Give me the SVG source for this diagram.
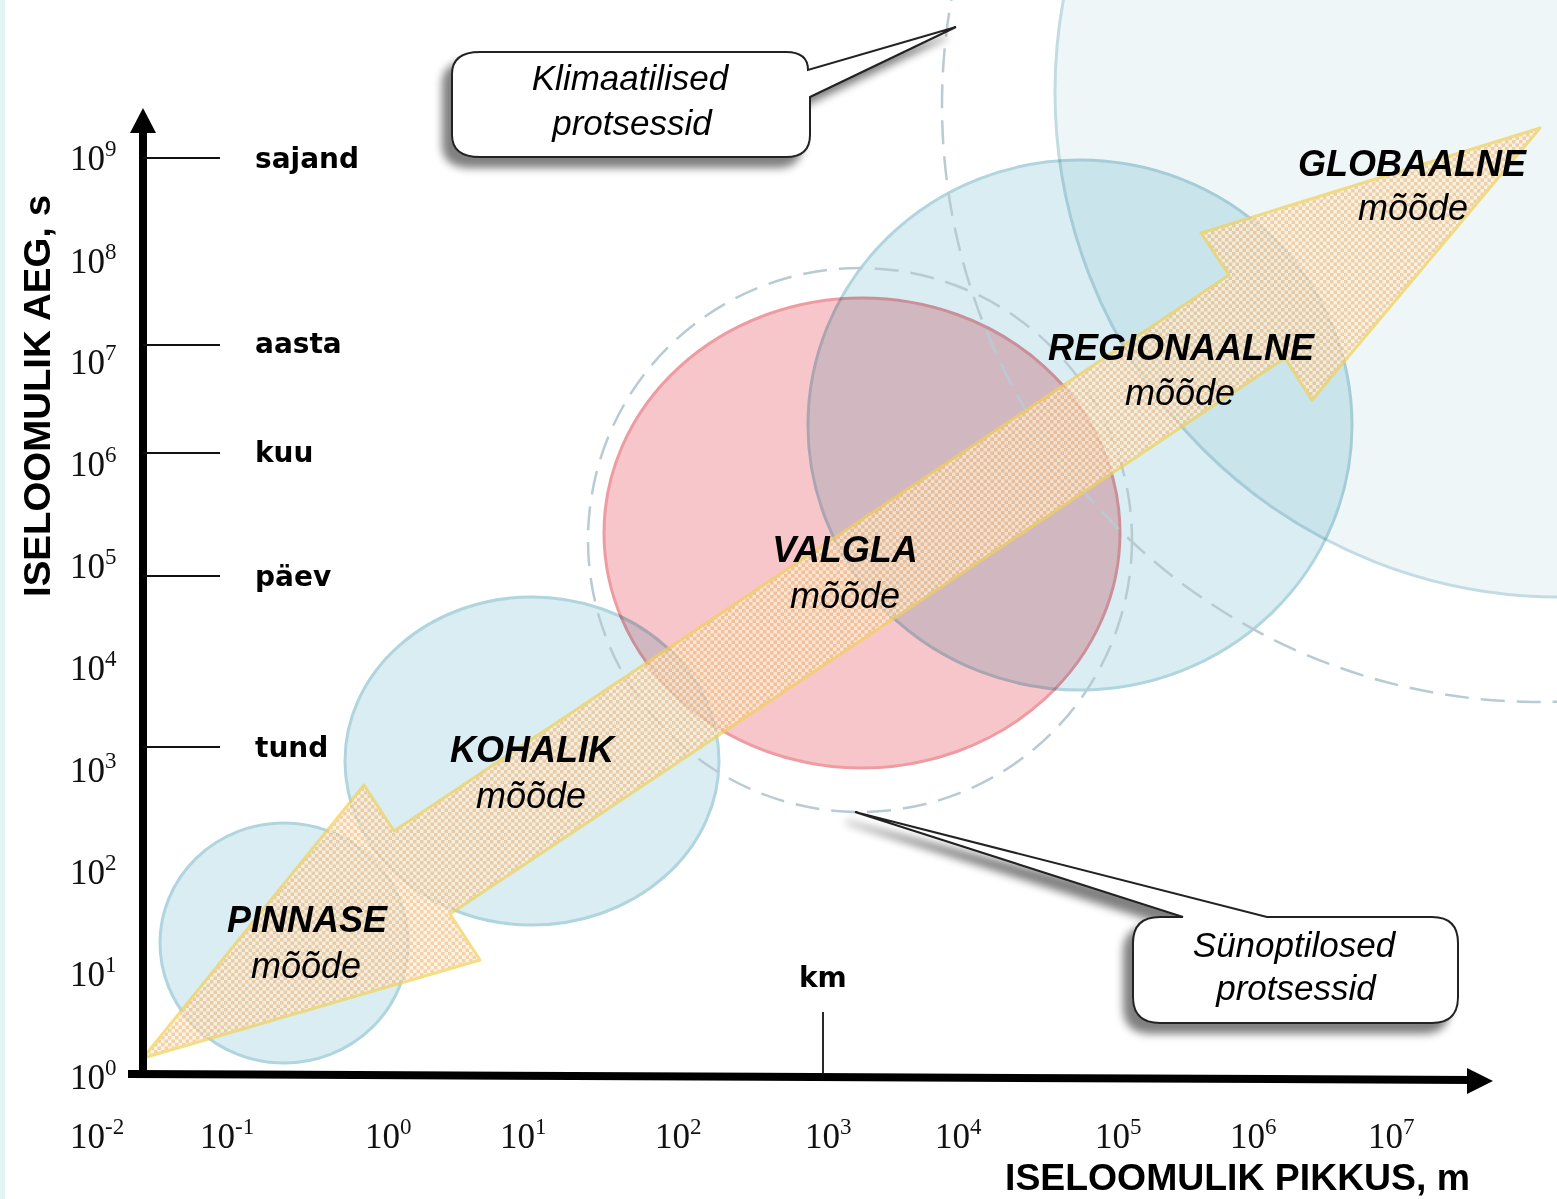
<svg xmlns="http://www.w3.org/2000/svg" width="1557" height="1199" viewBox="0 0 1557 1199">
<style>
.blue{fill:#d9edf3;stroke:#b0d5de;stroke-width:3;mix-blend-mode:multiply}
.red{fill:#f6c6ca;stroke:#ee9ba1;stroke-width:3;mix-blend-mode:multiply}
.dash{fill:none;stroke:#b9cbd2;stroke-width:2.5;stroke-dasharray:24 12}
.big{font-family:"Liberation Sans",Arial,sans-serif;font-weight:bold;font-style:italic;font-size:36px;fill:#000;text-anchor:middle}
.sub{font-family:"Liberation Sans",Arial,sans-serif;font-style:italic;font-size:36px;fill:#000;text-anchor:middle}
.num{font-family:"Liberation Serif","Times New Roman",serif;font-size:35px;fill:#111}
.tl{font-family:"DejaVu Sans",Verdana,sans-serif;font-weight:bold;font-size:28px;fill:#000}
.title{font-family:"Liberation Sans",Arial,sans-serif;font-weight:bold;font-size:36px;fill:#000}
.call{font-family:"Liberation Sans",Arial,sans-serif;font-style:italic;font-size:35px;fill:#000;text-anchor:middle}
.box{fill:#fff;stroke:#222;stroke-width:2}
.tick{stroke:#111;stroke-width:1.8}
</style>
<defs>
<pattern id="chk" patternUnits="userSpaceOnUse" width="7" height="7">
<rect width="7" height="7" fill="#fdf1da"/>
<rect width="3.5" height="3.5" fill="#f2bf88"/>
<rect x="3.5" y="3.5" width="3.5" height="3.5" fill="#f2bf88"/>
</pattern>
<filter id="sh" x="-20%" y="-20%" width="140%" height="160%">
<feGaussianBlur in="SourceAlpha" stdDeviation="4"/>
<feOffset dx="-9" dy="10" result="b"/>
<feComponentTransfer><feFuncA type="linear" slope="0.5"/></feComponentTransfer>
<feMerge><feMergeNode/><feMergeNode in="SourceGraphic"/></feMerge>
</filter>
</defs>
<rect width="1557" height="1199" fill="#fff"/>
<rect width="5" height="1199" fill="#e2f4f4"/>

<g id="node-globaalne-area">
<circle cx="1560" cy="92" r="505" fill="#eef6f8" stroke="#c3dce3" stroke-width="3"/>
</g>
<g id="node-regionaalne-circle">
<ellipse class="blue" cx="1080" cy="425" rx="272" ry="265"/>
</g>
<g id="node-valgla-circle">
<ellipse class="red" cx="862" cy="533" rx="258" ry="235"/>
</g>
<g id="node-kohalik-circle">
<ellipse class="blue" cx="532" cy="761" rx="187" ry="164"/>
</g>
<g id="node-pinnase-circle">
<ellipse class="blue" cx="284" cy="943" rx="124" ry="120"/>
</g>
<g id="dashed-scales">
<circle class="dash" cx="1539" cy="105" r="597"/>
<circle class="dash" cx="860" cy="540" r="272"/>
</g>

<g id="connectors">
<polygon points="143,1058 364,785 394,831 1229,275 1201,233 1540,128 1312,400 1285,358 450,914 480,960" fill="url(#chk)" stroke="#f2d058" stroke-width="3" stroke-linejoin="round" opacity="0.72"/>
</g>

<g id="labels">
<g id="node-pinnase"><text class="big" x="307" y="932">PINNASE</text><text class="sub" x="306" y="978">mõõde</text></g>
<g id="node-kohalik"><text class="big" x="532" y="762">KOHALIK</text><text class="sub" x="531" y="808">mõõde</text></g>
<g id="node-valgla"><text class="big" x="845" y="562">VALGLA</text><text class="sub" x="845" y="608">mõõde</text></g>
<g id="node-regionaalne"><text class="big" x="1181" y="360">REGIONAALNE</text><text class="sub" x="1180" y="405">mõõde</text></g>
<g id="node-globaalne"><text class="big" x="1412" y="176">GLOBAALNE</text><text class="sub" x="1413" y="220">mõõde</text></g>
</g>

<g id="node-klimaatilised" filter="url(#sh)">
<path class="box" d="M480,52 H786 Q808,52 808,70 L956,27 L810,97 V135 Q810,157 786,157 H480 Q452,157 452,135 V74 Q452,52 480,52 Z"/>
<text class="call" x="630" y="90">Klimaatilised</text>
<text class="call" x="632" y="135">protsessid</text>
</g>
<g id="node-synoptilosed" filter="url(#sh)">
<path class="box" d="M1160,917 H1183 L855,812 L1267,917 H1432 Q1458,917 1458,943 V997 Q1458,1023 1432,1023 H1160 Q1133,1023 1133,997 V943 Q1133,917 1160,917 Z"/>
<text class="call" x="1294" y="957">Sünoptilosed</text>
<text class="call" x="1296" y="1000">protsessid</text>
</g>

<g id="axes">
<line x1="143" y1="1078" x2="143" y2="128" stroke="#000" stroke-width="8"/>
<polygon points="143,108 156,133 130,133" fill="#000"/>
<line x1="128" y1="1074" x2="1472" y2="1080" stroke="#000" stroke-width="8"/>
<polygon points="1493,1081 1467,1068 1467,1094" fill="#000"/>
<line class="tick" x1="143" y1="158" x2="220" y2="158"/>
<line class="tick" x1="143" y1="345" x2="220" y2="345"/>
<line class="tick" x1="143" y1="453" x2="220" y2="453"/>
<line class="tick" x1="143" y1="576" x2="220" y2="576"/>
<line class="tick" x1="143" y1="747" x2="220" y2="747"/>
<line class="tick" x1="823" y1="1012" x2="823" y2="1074"/>
<text class="tl" x="255" y="168">sajand</text>
<text class="tl" x="255" y="353">aasta</text>
<text class="tl" x="255" y="462">kuu</text>
<text class="tl" x="255" y="586">päev</text>
<text class="tl" x="255" y="757">tund</text>
<text class="tl" x="799" y="987" font-size="26">km</text>

<text class="num" x="70" y="170">10<tspan dy="-14" font-size="23">9</tspan></text>
<text class="num" x="70" y="273">10<tspan dy="-14" font-size="23">8</tspan></text>
<text class="num" x="70" y="374">10<tspan dy="-14" font-size="23">7</tspan></text>
<text class="num" x="70" y="476">10<tspan dy="-14" font-size="23">6</tspan></text>
<text class="num" x="70" y="578">10<tspan dy="-14" font-size="23">5</tspan></text>
<text class="num" x="70" y="680">10<tspan dy="-14" font-size="23">4</tspan></text>
<text class="num" x="70" y="782">10<tspan dy="-14" font-size="23">3</tspan></text>
<text class="num" x="70" y="884">10<tspan dy="-14" font-size="23">2</tspan></text>
<text class="num" x="70" y="986">10<tspan dy="-14" font-size="23">1</tspan></text>
<text class="num" x="70" y="1089">10<tspan dy="-14" font-size="23">0</tspan></text>

<text class="num" x="70" y="1148">10<tspan dy="-14" font-size="23">-2</tspan></text>
<text class="num" x="200" y="1148">10<tspan dy="-14" font-size="23">-1</tspan></text>
<text class="num" x="365" y="1148">10<tspan dy="-14" font-size="23">0</tspan></text>
<text class="num" x="500" y="1148">10<tspan dy="-14" font-size="23">1</tspan></text>
<text class="num" x="655" y="1148">10<tspan dy="-14" font-size="23">2</tspan></text>
<text class="num" x="805" y="1148">10<tspan dy="-14" font-size="23">3</tspan></text>
<text class="num" x="935" y="1148">10<tspan dy="-14" font-size="23">4</tspan></text>
<text class="num" x="1095" y="1148">10<tspan dy="-14" font-size="23">5</tspan></text>
<text class="num" x="1230" y="1148">10<tspan dy="-14" font-size="23">6</tspan></text>
<text class="num" x="1368" y="1148">10<tspan dy="-14" font-size="23">7</tspan></text>

<text class="title" x="1005" y="1190" textLength="465" lengthAdjust="spacingAndGlyphs">ISELOOMULIK PIKKUS, m</text>
<text class="title" transform="translate(50,597) rotate(-90)" x="0" y="0" textLength="402" lengthAdjust="spacingAndGlyphs">ISELOOMULIK AEG, s</text>
</g>
</svg>
